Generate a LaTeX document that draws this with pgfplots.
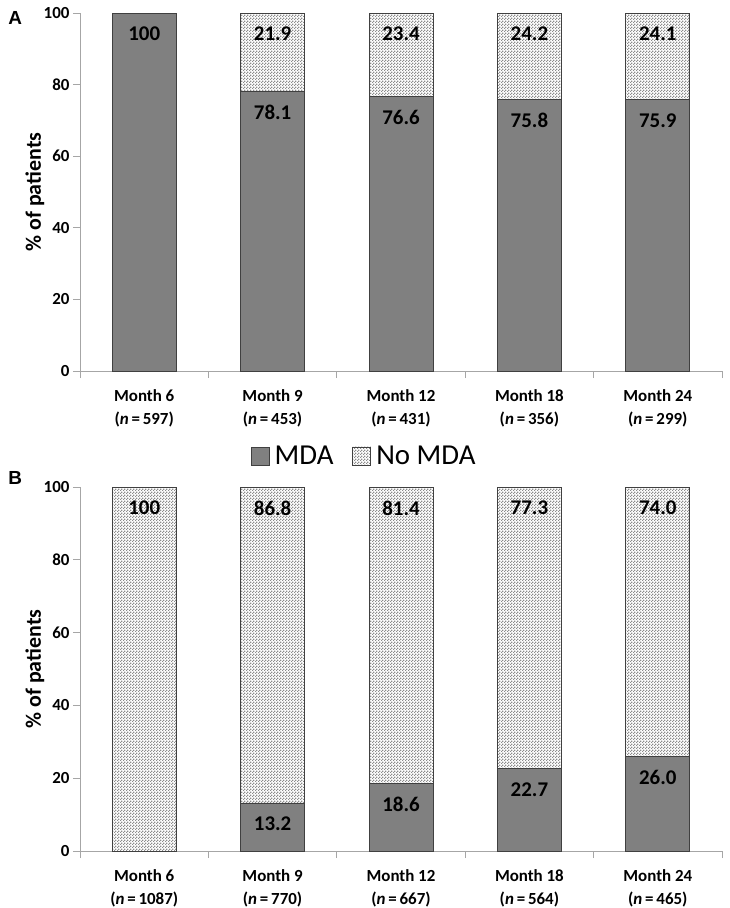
\documentclass[border=0pt]{standalone}
\usepackage{pgfplots}
\pgfplotsset{compat=1.18}
\usetikzlibrary{patterns}
\usepackage{fontspec}
\setmainfont{Carlito}
\newfontfamily\arialfont{Liberation Sans}
\definecolor{mdagray}{HTML}{808080}
\definecolor{axgray}{HTML}{A6A6A6}
\definecolor{edge}{HTML}{404040}
\definecolor{chk}{HTML}{8C8C8C}
\pgfdeclarepatternformonly{checker}{\pgfpointorigin}{\pgfpoint{3bp}{3bp}}{\pgfpoint{3bp}{3bp}}{%
  \pgfpathrectangle{\pgfpointorigin}{\pgfpoint{1.5bp}{1.5bp}}%
  \pgfpathrectangle{\pgfpoint{1.5bp}{1.5bp}}{\pgfpoint{1.5bp}{1.5bp}}%
  \pgfusepath{fill}}
\pgfplotsset{
  panel/.style={
    scale only axis, width=642bp,
    xmin=-0.5, xmax=4.5, ymin=0, ymax=100,
    ybar stacked, bar width=64bp,
    clip=false,
    /pgf/number format/assume math mode=true,
    axis x line*=bottom, axis y line*=left,
    axis line style={axgray, line width=1bp},
    ytick={0,20,...,100},
    xtick={0,...,4},
    minor xtick={-0.5,0.5,...,4.5},
    tick align=outside,
    major tick length=7bp, minor tick length=7bp,
    every tick/.style={axgray, line width=1bp},
    major x tick style={draw=none},
    yticklabel style={font=\fontsize{17}{20}\bfseries\selectfont, text=black},
    xticklabel style={font=\fontsize{17}{23}\bfseries\selectfont, align=center, yshift=-8bp},
    ylabel={\% of patients},
    every axis y label/.style={at={(axis description cs:-0.0701,0.5)}, rotate=90, anchor=center, font=\fontsize{22}{26}\bfseries\selectfont},
  },
  lab/.style={nodes near coords, point meta=explicit symbolic,
    visualization depends on={rawy \as \rawy},
    every node near coord/.append style={anchor=center, yshift={\rawy*#1bp-21bp}, font=\fontsize{21}{24}\bfseries\selectfont, text=black}},
  mda/.style={fill=mdagray, draw=edge, line width=0.8bp, lab=#1},
  nomda/.style={pattern=checker, pattern color=chk, draw=edge, line width=0.8bp, lab=#1},
  boxlegend/.style={legend image code/.code={\draw[##1, line width=0.8bp] (0bp,-9bp) rectangle (18bp,9bp);}},
}
\begin{document}
\begin{tikzpicture}
\useasboundingbox (0,0) rectangle (730bp,-908bp);
% Panel A
\begin{axis}[panel, at={(80bp,-371bp)}, anchor=south west, height=358bp,
  xticklabels={{Month 6\\(\textit{n}\,=\,597)},{Month 9\\(\textit{n}\,=\,453)},{Month 12\\(\textit{n}\,=\,431)},{Month 18\\(\textit{n}\,=\,356)},{Month 24\\(\textit{n}\,=\,299)}},
  legend style={at={(axis description cs:0.445,-0.2374)}, anchor=center, draw=none, fill=none, legend columns=-1,
    font=\fontsize{29}{34}\selectfont, nodes={inner xsep=5bp},
    /tikz/every even column/.append style={column sep=14bp}},
]
\addplot[mda=1.79, boxlegend] coordinates {(0,100) [100] (1,78.1) [78.1] (2,76.6) [76.6] (3,75.8) [75.8] (4,75.9) [75.9]};
\addplot[nomda=1.79, boxlegend] coordinates {(0,0) [] (1,21.9) [21.9] (2,23.4) [23.4] (3,24.2) [24.2] (4,24.1) [24.1]};
\legend{MDA, No MDA}
\node[font=\arialfont\fontsize{19}{22}\bfseries\selectfont] at (axis description cs:-0.101,0.986) {A};
\end{axis}
% Panel B
\begin{axis}[panel, at={(80bp,-851bp)}, anchor=south west, height=364bp,
  xticklabels={{Month 6\\(\textit{n}\,=\,1087)},{Month 9\\(\textit{n}\,=\,770)},{Month 12\\(\textit{n}\,=\,667)},{Month 18\\(\textit{n}\,=\,564)},{Month 24\\(\textit{n}\,=\,465)}},
]
\addplot[mda=1.82] coordinates {(0,0) [] (1,13.2) [13.2] (2,18.6) [18.6] (3,22.7) [22.7] (4,26.0) [26.0]};
\addplot[nomda=1.82] coordinates {(0,100) [100] (1,86.8) [86.8] (2,81.4) [81.4] (3,77.3) [77.3] (4,74.0) [74.0]};
\node[font=\arialfont\fontsize{19}{22}\bfseries\selectfont] at (axis description cs:-0.101,1.0247) {B};
\end{axis}
\end{tikzpicture}
\end{document}
